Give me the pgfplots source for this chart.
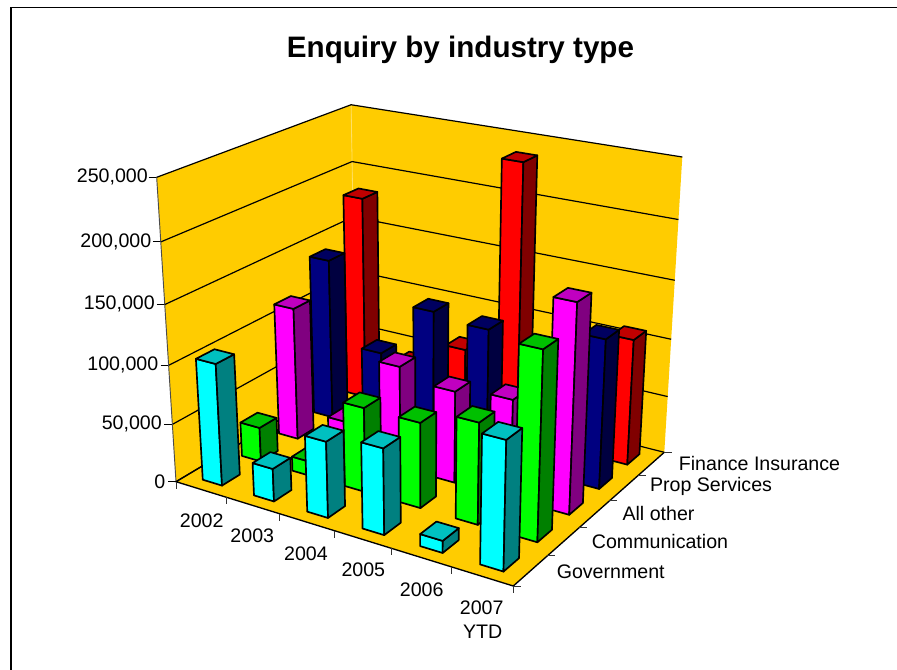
\documentclass[border=0pt]{standalone}
\usepackage{pgfplots}
\usepackage{pgfplotstable}
\usepackage{fontspec}
\pgfplotsset{compat=1.18}
\setmainfont{Liberation Sans}

% Enquiries per year (rows) and industry (columns)
\pgfplotstableread{
year   gov    comm   other  prop   fin
2002   104000 30000  116000 142000 182000
2003   28000  12500  27500  70500  42000
2004   64000  72000  88000  117700 66800
2005   71500  72000  78600  113000 237000
2006   10000  84700  83700  80000  90000
2007   104000 153900 173000 126600 108600
}\enquiry

% Perspective projection of (year slot, industry slot, enquiries) to sheet coordinates
\newcommand\projW[3]{(1-0.11215*(#1)/6+0.14788*(#2)/5-0.07222*(#3)/250000)}
\newcommand\projX[3]{\fpeval{(279.73*(#1)/6+232.30*(#2)/5+176-30.64*(#3)/250000)/\projW{#1}{#2}{#3}}}
\newcommand\projY[3]{\fpeval{(38.58*(#1)/6-51.82*(#2)/5+481.7-317.2*(#3)/250000)/\projW{#1}{#2}{#3}}}
\newcommand\pt[3]{(\projX{#1}{#2}{#3},\projY{#1}{#2}{#3})}

\definecolor{wall}{HTML}{FFCC00}
\definecolor{frontgov}{HTML}{00FFFF}\definecolor{sidegov}{HTML}{008080}\definecolor{topgov}{HTML}{00C0C0}
\definecolor{frontcomm}{HTML}{00FF00}\definecolor{sidecomm}{HTML}{008000}\definecolor{topcomm}{HTML}{00C000}
\definecolor{frontother}{HTML}{FF00FF}\definecolor{sideother}{HTML}{800080}\definecolor{topother}{HTML}{C000C0}
\definecolor{frontprop}{HTML}{000080}\definecolor{sideprop}{HTML}{000040}\definecolor{topprop}{HTML}{000060}
\definecolor{frontfin}{HTML}{FF0000}\definecolor{sidefin}{HTML}{800000}\definecolor{topfin}{HTML}{C00000}

% One filled polygon given its fully expanded corners
\newcommand\poly[2]{%
  \edef\polytmp{\noexpand\addplot[#1] coordinates {#2} -- cycle;}\polytmp}
\newcommand\segs[2]{%
  \edef\polytmp{\noexpand\addplot[#1] coordinates {#2};}\polytmp}

\pgfplotsset{barface/.style={draw=black,line width=1.25pt,line join=round,fill=#1,mark=none}}

% One box: slot #1 along the years, slot #2 along the industries, height #3, colours #4
\newcommand\drawbox[4]{%
  \edef\ul{\fpeval{#1+0.31}}\edef\uh{\fpeval{#1+0.69}}%
  \edef\vl{\fpeval{#2+0.275}}\edef\vh{\fpeval{#2+0.725}}%
  \poly{barface=front#4}{\pt{\ul}{\vl}{0}\pt{\uh}{\vl}{0}\pt{\uh}{\vl}{#3}\pt{\ul}{\vl}{#3}}%
  \poly{barface=side#4}{\pt{\uh}{\vl}{0}\pt{\uh}{\vh}{0}\pt{\uh}{\vh}{#3}\pt{\uh}{\vl}{#3}}%
  \poly{barface=top#4}{\pt{\ul}{\vl}{#3}\pt{\uh}{\vl}{#3}\pt{\uh}{\vh}{#3}\pt{\ul}{\vh}{#3}}%
}
\newcommand\seriesboxes[2]{%
  \pgfplotsforeachungrouped \i in {0,...,5}{%
    \pgfplotstablegetelem{\i}{#2}\of\enquiry
    \edef\val{\pgfplotsretval}%
    \drawbox{\i}{#1}{\val}{#2}%
  }%
}
\newcommand\lbl{\fontsize{14.7}{17}\selectfont}

\begin{document}
\begin{tikzpicture}
\begin{axis}[
  scale only axis, width=672.75pt, height=502.5pt,
  xmin=0, xmax=897, ymin=0, ymax=670, y dir=reverse,
  hide axis,
  every axis plot/.append style={mark=none},
]
  % sheet background and frame
  \addplot[draw=none,fill=white] coordinates {(0,0) (897,0) (897,670) (0,670)} -- cycle;
  \addplot[draw=black,line width=1.2pt] coordinates {(11,670) (11,7.5) (897,7.5)};

  % walls and floor
  \poly{draw=none,fill=wall}{\pt{0}{0}{0}\pt{0}{5}{0}\pt{0}{5}{250000}\pt{0}{0}{250000}}
  \poly{draw=none,fill=wall}{\pt{0}{5}{0}\pt{6}{5}{0}\pt{6}{5}{250000}\pt{0}{5}{250000}}
  \poly{draw=none,fill=wall}{\pt{0}{0}{0}\pt{6}{0}{0}\pt{6}{5}{0}\pt{0}{5}{0}}
  \segs{draw=wall!60!white,line width=0.6pt}{\pt{0}{5}{0}\pt{0}{5}{250000}}

  % gridlines on the walls, one per major value
  \pgfplotsforeachungrouped \g in {0,50000,100000,150000,200000,250000}{%
    \segs{draw=black,line width=0.9pt}{\pt{0}{0}{\g}\pt{0}{5}{\g}\pt{6}{5}{\g}}%
    \segs{draw=black,line width=0.8pt}{(\fpeval{\projX{0}{0}{\g}-8},\projY{0}{0}{\g})\pt{0}{0}{\g}}%
  }
  \segs{draw=black!70,line width=0.7pt}{\pt{0}{0}{0}\pt{0}{0}{250000}}

  % floor edges with their tick marks
  \segs{draw=black,line width=1pt}{\pt{0}{5}{0}\pt{0}{0}{0}\pt{6}{0}{0}\pt{6}{5}{0}}
  \pgfplotsforeachungrouped \i in {0,...,6}{%
    \segs{draw=black!80,line width=0.7pt}{\pt{\i}{0}{0}(\projX{\i}{0}{0},\fpeval{\projY{\i}{0}{0}+7})}%
  }
  \pgfplotsforeachungrouped \j in {0,...,5}{%
    \segs{draw=black!80,line width=0.7pt}{\pt{6}{\j}{0}(\fpeval{\projX{6}{\j}{0}+8},\projY{6}{\j}{0})}%
  }

  % boxes, farthest series first
  \seriesboxes{4}{fin}
  \seriesboxes{3}{prop}
  \seriesboxes{2}{other}
  \seriesboxes{1}{comm}
  \seriesboxes{0}{gov}

  % titles and tick labels
  \node[font=\bfseries\fontsize{22.2}{26}\selectfont] at (axis cs:460.5,50) {Enquiry by industry type};
  \node[anchor=east,inner sep=0pt,font=\lbl] at (axis cs:148,177) {250,000};
  \node[anchor=east,inner sep=0pt,font=\lbl] at (axis cs:151.5,241.5) {200,000};
  \node[anchor=east,inner sep=0pt,font=\lbl] at (axis cs:155,303.5) {150,000};
  \node[anchor=east,inner sep=0pt,font=\lbl] at (axis cs:158.5,364.5) {100,000};
  \node[anchor=east,inner sep=0pt,font=\lbl] at (axis cs:162,423.5) {50,000};
  \node[anchor=east,inner sep=0pt,font=\lbl] at (axis cs:165.5,481.5) {0};
  \node[inner sep=0pt,font=\lbl] at (axis cs:201.7,520.5) {2002};
  \node[inner sep=0pt,font=\lbl] at (axis cs:252.3,536) {2003};
  \node[inner sep=0pt,font=\lbl] at (axis cs:306,554) {2004};
  \node[inner sep=0pt,font=\lbl] at (axis cs:363.3,570) {2005};
  \node[inner sep=0pt,font=\lbl] at (axis cs:421.7,589.3) {2006};
  \node[inner sep=0pt,font=\lbl] at (axis cs:481.7,607.3) {2007};
  \node[inner sep=0pt,font=\lbl] at (axis cs:482.7,631.7) {YTD};
  \node[inner sep=0pt,font=\lbl] at (axis cs:610.7,571.7) {Government};
  \node[inner sep=0pt,font=\lbl] at (axis cs:660,541.5) {Communication};
  \node[inner sep=0pt,font=\lbl] at (axis cs:658.5,513.3) {All other};
  \node[inner sep=0pt,font=\lbl] at (axis cs:711,486.5) {Prop Services};
  \node[inner sep=0pt,font=\lbl] at (axis cs:759.5,463) {Finance Insurance};
\end{axis}
\end{tikzpicture}
\end{document}
